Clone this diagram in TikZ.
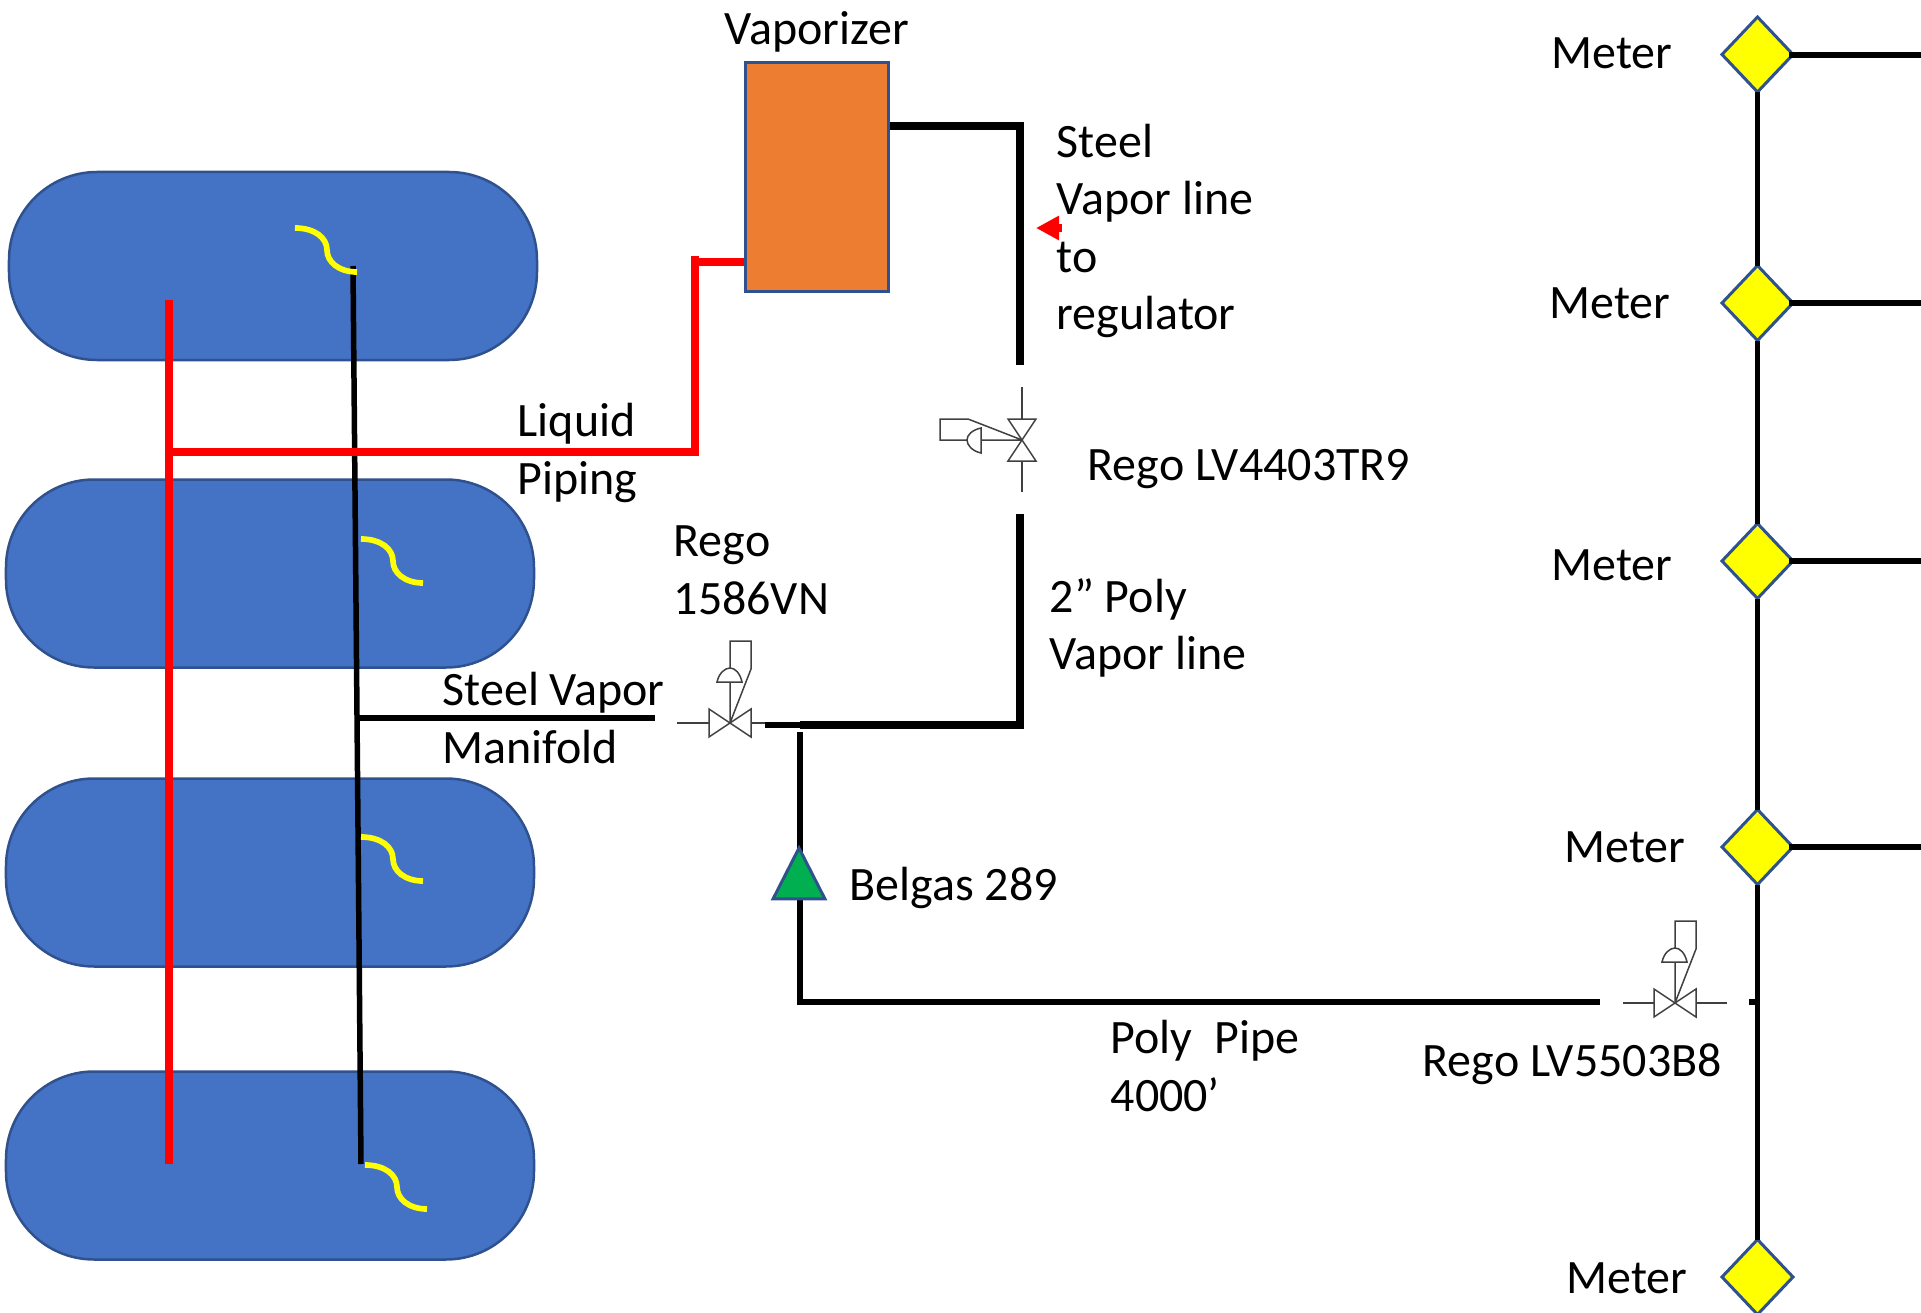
\documentclass[tikz,border=0pt]{standalone}
\usepackage{xcolor}
\usepackage{fontspec}
\setmainfont{Carlito}
\usepackage{tikz}
\usetikzlibrary{shapes.geometric,arrows.meta}

\definecolor{tankblue}{HTML}{4472C4}
\definecolor{edgeblue}{HTML}{2F528F}
\definecolor{vaporange}{HTML}{ED7D31}
\definecolor{belgreen}{HTML}{00B050}
\definecolor{pureyellow}{RGB}{255,255,0}
\definecolor{purered}{RGB}{255,0,0}

\tikzset{
    tank/.style={draw=edgeblue, fill=tankblue, line width=0.025cm, rounded corners=0.88cm, minimum width=5.28cm, minimum height=1.88cm},
    meter/.style={draw=edgeblue, fill=pureyellow, line width=0.03cm, shape=diamond, inner sep=0pt, outer sep=0pt, minimum width=0.71cm, minimum height=0.75cm},
    lbl/.style={anchor=west, align=left, inner sep=0pt, font=\fontsize{13.65}{16.4}\selectfont},
    redpipe/.style={draw=purered, line width=0.08cm},
    heavypipe/.style={draw=black, line width=0.085cm},
    pipe/.style={draw=black, line width=0.055cm},
    thin line/.style={draw=black!75, line width=0.015cm},
    regvalve/.pic={
        \draw[thin line] (-0.21,-0.14) -- (0.21,0.14) -- (0.21,-0.14) -- (-0.21,0.14) -- cycle;
        \draw[thin line] (0,0) -- (0,0.82) -- (0.21,0.82) -- (0.21,0.54) -- (0,0);
        \draw[thin line, fill=white] (-0.13,0.41) .. controls (-0.11,0.50) and (-0.05,0.55) .. (0,0.55) .. controls (0.05,0.55) and (0.10,0.50) .. (0.12,0.41) -- cycle;
        \coordinate (-w) at (-0.21,0);
        \coordinate (-e) at (0.21,0);
    },
    diptube/.pic={
        \draw[draw=pureyellow, line width=0.057cm] (0,0) .. controls (0.20,0) and (0.32,-0.10) .. (0.32,-0.22) .. controls (0.32,-0.34) and (0.44,-0.44) .. (0.62,-0.44);
    }
}

\begin{document}
\begin{tikzpicture}
    \useasboundingbox (0,0) rectangle (19.21,13.12);

    % Draw the tanks
    \node[tank] (tank1) at (2.73,10.46) {};
    \node[tank] (tank2) at (2.70,7.385) {};
    \node[tank] (tank3) at (2.70,4.395) {};
    \node[tank] (tank4) at (2.70,1.465) {};

    % Draw the vaporizer
    \node[draw=edgeblue, fill=vaporange, line width=0.03cm, minimum width=1.43cm, minimum height=2.29cm] (vap) at (8.17,11.35) {};

    % Draw the vapor manifold
    \coordinate (mantop) at (3.53,10.46);
    \coordinate (manbot) at (3.61,1.48);
    \coordinate (manjoin) at (3.57,5.94);
    \coordinate (manend) at (6.55,5.94);
    \draw[pipe] (mantop) -- (manbot);
    \draw[pipe] (manjoin) -- (manend);

    % Draw the liquid piping
    \coordinate (redtop) at (1.685,10.12);
    \coordinate (redbot) at (1.685,1.48);
    \coordinate (redjoin) at (1.685,8.60);
    \coordinate (redcorner) at (6.95,8.60);
    \coordinate (redup) at (6.95,10.56);
    \coordinate (redarm) at (6.95,10.50);
    \draw[redpipe] (redtop) -- (redbot);
    \draw[redpipe] (redjoin) -- (redcorner);
    \draw[redpipe] ([yshift=-0.04cm]redcorner) -- (redup);
    \draw[redpipe] (redarm) -- (vap.west |- redarm);

    % Draw the dip tubes
    \pic at (2.95,10.84) {diptube};
    \pic at (3.61,7.73) {diptube};
    \pic at (3.61,4.75) {diptube};
    \pic at (3.65,1.47) {diptube};

    % Draw the valves
    \pic (valveA) at (7.30,5.89) {regvalve};
    \pic[rotate=90] (valveB) at (10.22,8.72) {regvalve};
    \pic (valveC) at (16.75,3.09) {regvalve};

    % Draw the short lines on the valves
    \coordinate (stubA) at (6.77,5.89);
    \coordinate (stubAe) at (7.65,5.89);
    \coordinate (stubBtop) at (10.22,9.25);
    \coordinate (stubBbot) at (10.22,8.20);
    \coordinate (stubC) at (16.23,3.09);
    \coordinate (stubCe) at (17.27,3.09);
    \draw[thin line] (stubA) -- (valveA-w);
    \draw[thin line] (valveA-e) -- (stubAe);
    \draw[thin line] (stubBtop) -- (valveB-e);
    \draw[thin line] (valveB-w) -- (stubBbot);
    \draw[thin line] (stubC) -- (valveC-w);
    \draw[thin line] (valveC-e) -- (stubCe);

    % Draw the vapor line
    \coordinate (steeltop) at (10.20,11.86);
    \coordinate (steelbot) at (10.20,9.47);
    \coordinate (polytop) at (10.20,7.98);
    \coordinate (polycorner) at (10.20,5.87);
    \coordinate (polytee) at (8.00,5.87);
    \coordinate (polystub) at (7.65,5.87);
    \draw[heavypipe] (vap.east |- steeltop) -- (steeltop) -- (steelbot);
    \draw[heavypipe] (polytop) -- (polycorner) -- (polytee);
    \draw[pipe] (polystub) -- (polytee);

    % Draw the long poly pipe
    \coordinate (longdown) at (8.00,5.80);
    \coordinate (longcorner) at (8.00,3.10);
    \coordinate (longend) at (16.00,3.10);
    \draw[pipe] (longdown) -- (longcorner) -- (longend);

    % Draw the green triangle
    \node[draw=edgeblue, fill=belgreen, line width=0.03cm, shape=isosceles triangle, shape border rotate=90, isosceles triangle apex angle=54, isosceles triangle stretches, inner sep=0pt, outer sep=0pt, minimum width=0.52cm, minimum height=0.51cm, anchor=south] (belgas) at (7.99,4.13) {};

    % Draw the service line and meters
    \node[meter] (meter1) at (17.575,12.575) {};
    \node[meter] (meter2) at (17.575,10.09) {};
    \node[meter] (meter3) at (17.575,7.51) {};
    \node[meter] (meter4) at (17.575,4.65) {};
    \node[meter] (meter5) at (17.575,0.35) {};
    \coordinate (stubD) at (17.49,3.10);
    \coordinate (main3) at (17.58,3.10);
    \draw[pipe] (meter1.south) -- (meter2.north);
    \draw[pipe] (meter2.south) -- (meter3.north);
    \draw[pipe] (meter3.south) -- (meter4.north);
    \draw[pipe] (meter4.south) -- (meter5.north);
    \draw[pipe] (stubD) -- (main3);

    % Draw the branches
    \coordinate (branch1) at (19.21,12.57);
    \coordinate (branch2) at (19.21,10.09);
    \coordinate (branch3) at (19.21,7.51);
    \coordinate (branch4) at (19.21,4.65);
    \draw[pipe] ([xshift=-0.04cm]meter1.east |- branch1) -- (branch1);
    \draw[pipe] ([xshift=-0.04cm]meter2.east) -- (branch2);
    \draw[pipe] ([xshift=-0.04cm]meter3.east) -- (branch3);
    \draw[pipe] ([xshift=-0.04cm]meter4.east) -- (branch4);

    % Draw the red arrow
    \coordinate (arrowtail) at (10.62,10.84);
    \coordinate (arrowtip) at (10.36,10.84);
    \draw[draw=purered, line width=0.08cm, -{Triangle[length=0.23cm,width=0.23cm]}] (arrowtail) -- (arrowtip);

    % Add the text
    \node[lbl] (labvap) at (7.24,12.80) {Vaporizer};
    \node[lbl] (labsteel) at (10.56,10.81) {Steel\\Vapor line\\to\\regulator};
    \node[lbl] (labliquid) at (5.17,8.59) {Liquid\\Piping};
    \node[lbl] (labrego) at (6.73,7.42) {Rego\\1586VN};
    \node[lbl] (labman) at (4.42,5.94) {Steel Vapor\\Manifold};
    \node[lbl] (labpoly) at (10.49,6.84) {2” Poly\\Vapor line};
    \node[lbl] (labB) at (10.87,8.43) {Rego LV4403TR9};
    \node[lbl] (labbel) at (8.49,4.24) {Belgas 289};
    \node[lbl] (lablong) at (11.10,2.46) {Poly\ \ Pipe\\4000’};
    \node[lbl] (labC) at (14.22,2.48) {Rego LV5503B8};
    \node[lbl] (labm1) at (15.51,12.59) {Meter};
    \node[lbl] (labm2) at (15.49,10.09) {Meter};
    \node[lbl] (labm3) at (15.51,7.47) {Meter};
    \node[lbl] (labm4) at (15.64,4.65) {Meter};
    \node[lbl] (labm5) at (15.66,0.34) {Meter};
\end{tikzpicture}
\end{document}
